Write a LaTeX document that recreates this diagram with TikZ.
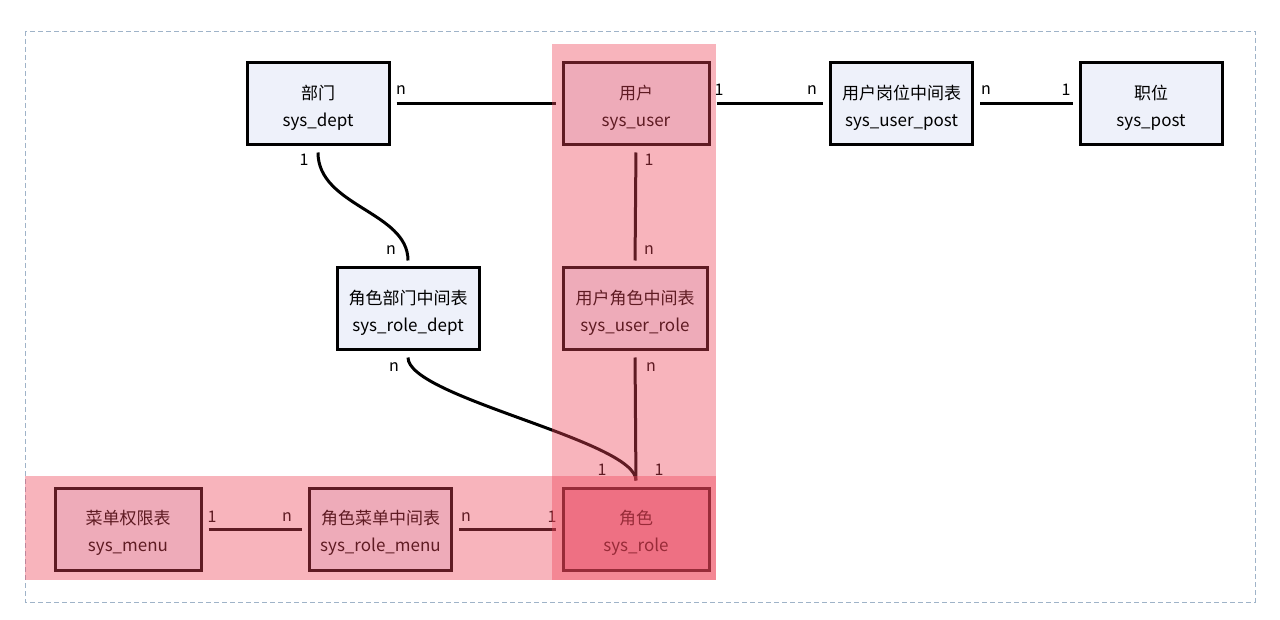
\documentclass[tikz,border=0pt]{standalone}
\usepackage{fontspec}
\setmainfont{Noto Sans CJK SC}
\usetikzlibrary{positioning}
\definecolor{boxfill}{HTML}{EEF1FA}
\definecolor{rolefill}{HTML}{EFC0D3}
\definecolor{bandc}{RGB}{238,68,88}
\definecolor{framec}{HTML}{9FB3C8}
\newcommand\tblstrut{\rule{0pt}{21pt}}
\tikzset{
  tbl/.style={draw=black, line width=3pt, fill=boxfill, minimum width=142pt, minimum height=82pt, inner sep=0pt, align=center, font=\fontsize{17}{27}\selectfont},
  rel/.style={line width=3pt, shorten <=6pt, shorten >=6pt},
  card/.style={font=\fontsize{16}{16}\selectfont, inner sep=0pt},
  band/.style={fill=bandc, fill opacity=0.4, draw=none}
}
\begin{document}
\begin{tikzpicture}[x=1pt,y=-1pt]
\useasboundingbox (0,0) rectangle (1280,620);
\draw[framec, dashed, dash pattern=on 5pt off 3pt, line width=0.9pt] (25,31) rectangle (1255,602);

\node[tbl] (dept) at (318,104) {\tblstrut 部门\\sys\_dept};
\node[tbl, minimum width=146pt] (user) at (636,104) {\tblstrut 用户\\sys\_user};
\node[tbl] (upost) at (901.5,104) {\tblstrut 用户岗位中间表\\sys\_user\_post};
\node[tbl] (post) at (1151,104) {\tblstrut 职位\\sys\_post};
\node[tbl] (rdept) at (408,309) {\tblstrut 角色部门中间表\\sys\_role\_dept};
\node[tbl, minimum width=144pt] (urole) at (635,309) {\tblstrut 用户角色中间表\\sys\_user\_role};
\node[tbl, minimum width=146pt] (menu) at (128,529) {\tblstrut 菜单权限表\\sys\_menu};
\node[tbl] (rmenu) at (380.5,529) {\tblstrut 角色菜单中间表\\sys\_role\_menu};
\node[tbl, minimum width=146pt, fill=rolefill] (role) at (636,529) {\tblstrut 角色\\sys\_role};

\draw[rel] (dept.east) -- (user.west);
\draw[rel] (user.east) -- (upost.west);
\draw[rel] (upost.east) -- (post.west);
\draw[rel] (user.south) -- (urole.north);
\draw[rel] (urole.south) -- (role.north);
\draw[rel] (menu.east) -- (rmenu.west);
\draw[rel] (rmenu.east) -- (role.west);
\draw[rel] (dept.south) .. controls +(0,60) and +(0,-55) .. (rdept.north);
\draw[rel] (rdept.south) .. controls +(0,46) and +(0,-46) .. (role.north);

\node[card] at (401,90) {n};
\node[card] at (719,90) {1};
\node[card] at (812,90) {n};
\node[card] at (986,90) {n};
\node[card] at (1066,90) {1};
\node[card] at (304,160) {1};
\node[card] at (391,250) {n};
\node[card] at (649,160) {1};
\node[card] at (649,250) {n};
\node[card] at (394,367) {n};
\node[card] at (651,367) {n};
\node[card] at (602,470) {1};
\node[card] at (659,470) {1};
\node[card] at (212,517) {1};
\node[card] at (287,517) {n};
\node[card] at (466,517) {n};
\node[card] at (552,517) {1};

\fill[band] (552,44) rectangle (716,580);
\fill[band] (25,476) rectangle (716,580);
\end{tikzpicture}
\end{document}
